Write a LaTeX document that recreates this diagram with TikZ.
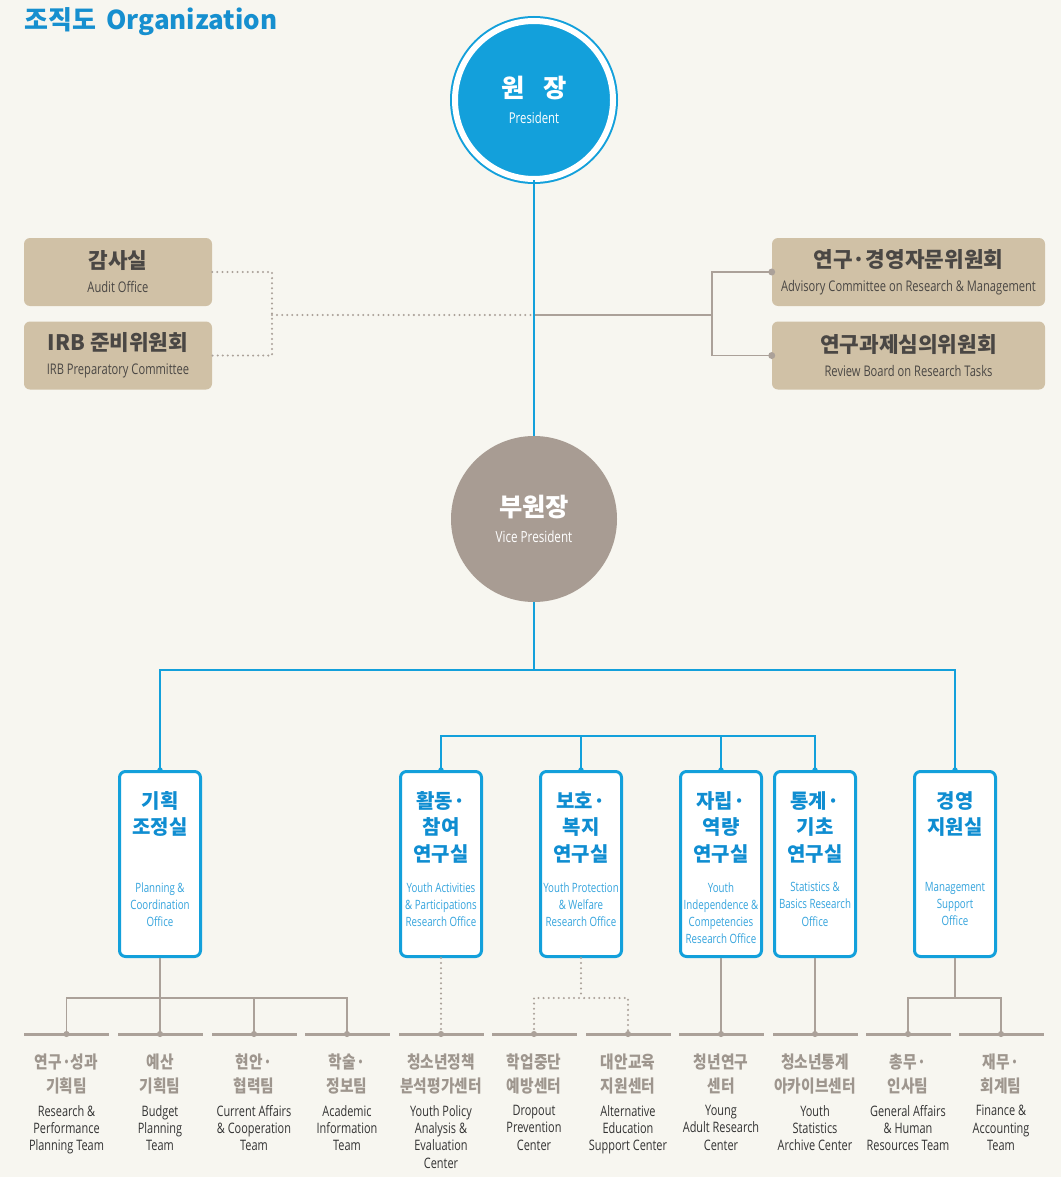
\documentclass[tikz,border=0pt]{standalone}
\usepackage{fontspec}
\usetikzlibrary{positioning}
\newfontfamily\kr[FakeStretch=0.85]{Noto Sans CJK KR}
\newfontfamily\krw{Noto Sans CJK KR}
\newfontfamily\en[FakeStretch=0.76]{Open Sans}
\definecolor{bgcol}{HTML}{F7F6F0}
\definecolor{kblue}{HTML}{13A0DB}
\definecolor{tblue}{HTML}{168FCF}
\definecolor{oblue}{HTML}{0F8DD1}
\definecolor{oblue2}{HTML}{35A4DD}
\definecolor{beige}{HTML}{D0C1A6}
\definecolor{vgray}{HTML}{A89C93}
\definecolor{lgray}{HTML}{ABA199}
\definecolor{kgray}{HTML}{9E968E}
\definecolor{boxtext}{HTML}{4A4744}
\definecolor{teamtext}{HTML}{333333}

\begin{document}
\begin{tikzpicture}[x=0.75pt,y=-0.75pt,
  blue line/.style={draw=kblue,line width=1.4pt},
  gray line/.style={draw=lgray,line width=1.4pt},
  dot line/.style={draw=lgray,line width=1.7pt,dash pattern=on 0pt off 3.8pt,line cap=round},
  head node/.style={circle,fill=kblue,draw=kblue,line width=1.5pt,double=white,double distance=4.5pt,
        minimum size=118.5pt,inner sep=0pt,text=white,align=center,font=\en\fontsize{11.2}{13}\selectfont},
  vice node/.style={circle,fill=vgray,minimum size=124.5pt,inner sep=0pt,text=white,align=center,
        font=\en\fontsize{11.5}{13}\selectfont},
  side node/.style={rectangle,rounded corners=4.5pt,fill=beige,minimum height=51pt,inner sep=0pt,
        align=center,text=boxtext,font=\en\fontsize{11}{13}\selectfont},
  office node/.style={rectangle,rounded corners=4.5pt,fill=white,draw=kblue,line width=2.25pt,
        minimum width=60.75pt,minimum height=138.75pt},
  office kr/.style={anchor=north,inner sep=0pt,align=center,text=oblue,font=\krw\bfseries\fontsize{15}{20}\selectfont},
  office en/.style={anchor=north,inner sep=0pt,align=center,text=oblue2,font=\en\fontsize{9.6}{12.9}\selectfont},
  team bar/.style={rectangle,fill=lgray,minimum width=63.75pt,minimum height=2.25pt,inner sep=0pt},
  team kr/.style={anchor=north,inner sep=0pt,align=center,text=kgray,font=\kr\bfseries\fontsize{13}{18}\selectfont},
  team en/.style={anchor=north,inner sep=0pt,align=center,text=teamtext,font=\en\fontsize{10.8}{13}\selectfont}]

  \useasboundingbox[fill=bgcol] (0,0) rectangle (1061,1177);

  % title
  \node[anchor=west,inner sep=0pt,text=tblue,font=\krw\bfseries\fontsize{19.5}{22}\selectfont] (title) at (24,22) {조직도\hspace{0.4em}Organization};

  % president and vice president
  \node[head node] (pres) at (534,100) {{\krw\bfseries\fontsize{19}{22}\selectfont 원\hspace{0.75em}장}\\[6pt]President};
  \node[vice node] (vp) at (534,519) {{\krw\bfseries\fontsize{19}{22}\selectfont 부원장}\\[6pt]Vice President};

  % side committees
  \node[side node,minimum width=141pt] (audit) at (118,272) {{\krw\bfseries\fontsize{16}{19}\selectfont 감사실}\\[5pt]Audit Office};
  \node[side node,minimum width=141pt,below=11.25pt of audit] (irb) {{\krw\bfseries\fontsize{16}{19}\selectfont IRB 준비위원회}\\[5pt]IRB Preparatory Committee};
  \node[side node,minimum width=204.75pt] (adv) at (908.5,272) {{\krw\bfseries\fontsize{16}{19}\selectfont 연구·경영자문위원회}\\[5pt]Advisory Committee on Research \& Management};
  \node[side node,minimum width=204.75pt,below=11.25pt of adv] (rev) {{\krw\bfseries\fontsize{16}{19}\selectfont 연구과제심의위원회}\\[5pt]Review Board on Research Tasks};

  \coordinate (ljoin) at (272,315);
  \coordinate (rjoin) at (712,315);
  \draw[dot line] (audit.east) -| (ljoin) |- (irb.east);
  \draw[dot line] (ljoin) -- (ljoin -| pres.south);
  \draw[gray line] (pres.south |- rjoin) -- (rjoin);
  \draw[gray line] (adv.west) -| (rjoin) |- (rev.west);
  \fill[lgray] (adv.west) circle (2.6pt) (rev.west) circle (2.6pt);

  \draw[blue line] (pres.south) -- (vp.north);

  % offices
  \foreach \n/\x in {plan/160,act/441,prot/581,indep/721,stat/815,mgmt/955}{
    \node[office node] (\n) at (\x,864) {};
    \fill[kblue] (\n.north) circle (2pt);
  }
  \node[office kr] (planK) at (160,791) {기획\\조정실};
  \node[office kr] (actK) at (441,791) {활동·\\참여\\연구실};
  \node[office kr] (protK) at (581,791) {보호·\\복지\\연구실};
  \node[office kr] (indepK) at (721,791) {자립·\\역량\\연구실};
  \node[office kr] (statK) at (815,791) {통계·\\기초\\연구실};
  \node[office kr] (mgmtK) at (955,791) {경영\\지원실};
  \node[office en] (planE) at (160,882) {Planning \&\\Coordination\\Office};
  \node[office en] (actE) at (441,882) {Youth Activities\\\& Participations\\Research Office};
  \node[office en] (protE) at (581,882) {Youth Protection\\\& Welfare\\Research Office};
  \node[office en] (indepE) at (721,882) {Youth\\Independence \&\\Competencies\\Research Office};
  \node[office en] (statE) at (815,882) {Statistics \&\\Basics Research\\Office};
  \node[office en] (mgmtE) at (955,882) {Management\\Support\\Office};

  \coordinate (hub) at (534,670);
  \coordinate (hub2) at (581,736);
  \draw[blue line] (vp.south) -- (hub);
  \draw[blue line] (plan.north) |- (hub) -| (mgmt.north);
  \draw[blue line] (act.north) |- (hub2) -| (stat.north);
  \draw[blue line] (prot.north) -- (prot.north |- hub2);
  \draw[blue line] (indep.north) -- (indep.north |- hub2);

  % teams
  \foreach \x/\k/\e [count=\i] in {
      66.5/{연구·성과\\기획팀}/{Research \&\\Performance\\Planning Team},
      160/{예산\\기획팀}/{Budget\\Planning\\Team},
      254/{현안·\\협력팀}/{Current Affairs\\\& Cooperation\\Team},
      347/{학술·\\정보팀}/{Academic\\Information\\Team},
      441/{청소년정책\\분석평가센터}/{Youth Policy\\Analysis \&\\Evaluation\\Center},
      534/{학업중단\\예방센터}/{Dropout\\Prevention\\Center},
      628/{대안교육\\지원센터}/{Alternative\\Education\\Support Center},
      721/{청년연구\\센터}/{Young\\Adult Research\\Center},
      815/{청소년통계\\아카이브센터}/{Youth\\Statistics\\Archive Center},
      908/{총무·\\인사팀}/{General Affairs\\\& Human\\Resources Team},
      1001/{재무·\\회계팀}/{Finance \&\\Accounting\\Team}}{
    \node[team bar] (bar\i) at (\x,1034) {};
    \node[team kr] (teamK\i) at (\x,1054) {\k};
    \node[team en] (teamE\i) at (\x,1105) {\e};
  }

  \coordinate (pjoin) at (160,998);
  \coordinate (wjoin) at (581,998);
  \coordinate (mjoin) at (955,998);
  \draw[gray line] (plan.south) -- (bar2.center);
  \draw[gray line] (bar1.center) |- (pjoin) -| (bar4.center);
  \draw[gray line] (bar3.center) -- (bar3.center |- pjoin);
  \draw[dot line] (act.south) -- (bar5.center);
  \draw[dot line] (prot.south) -- (wjoin);
  \draw[dot line] (bar6.center) |- (wjoin) -| (bar7.center);
  \draw[gray line] (indep.south) -- (bar8.center);
  \draw[gray line] (stat.south) -- (bar9.center);
  \draw[gray line] (mgmt.south) -- (mjoin);
  \draw[gray line] (bar10.center) |- (mjoin) -| (bar11.center);
  \foreach \i in {1,...,11}
    \fill[lgray] (bar\i.center) circle (2.3pt);
\end{tikzpicture}
\end{document}
